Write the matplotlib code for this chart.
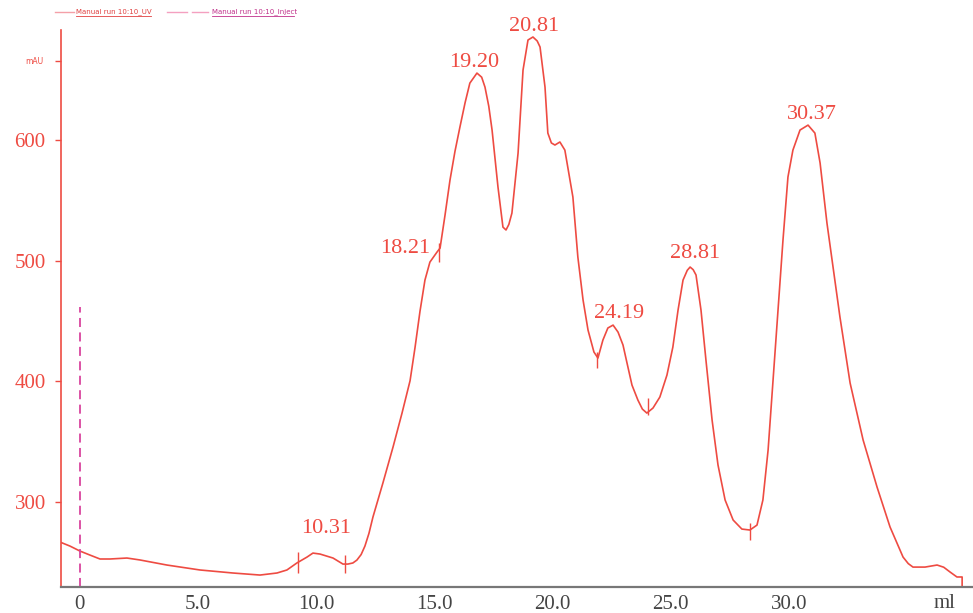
import numpy as np
import matplotlib.pyplot as plt
from matplotlib.lines import Line2D

# chromatogram (ml, mAU)
volume = [-0.85, -0.42, 0.00, 0.42, 0.85, 1.27, 1.99, 2.54, 3.68, 5.08,
          6.47, 7.62, 8.34, 8.76, 9.18, 9.61, 9.86, 10.16, 10.71, 11.13,
          11.34, 11.55, 11.72, 11.90, 12.06, 12.23, 12.40, 12.82, 13.25, 13.63,
          13.97, 14.18, 14.39, 14.60, 14.81, 15.11, 15.24, 15.45, 15.66, 15.87,
          16.08, 16.30, 16.50, 16.80, 17.00, 17.14, 17.30, 17.44, 17.69, 17.90,
          18.03, 18.15, 18.28, 18.54, 18.75, 18.96, 19.17, 19.35, 19.47, 19.68,
          19.80, 19.95, 20.10, 20.31, 20.52, 20.86, 21.07, 21.29, 21.50, 21.75,
          21.92, 22.13, 22.34, 22.56, 22.77, 22.98, 23.15, 23.36, 23.61, 23.80,
          23.99, 24.25, 24.54, 24.84, 25.09, 25.31, 25.52, 25.70, 25.82, 25.95,
          26.07, 26.28, 26.49, 26.75, 27.00, 27.30, 27.64, 28.01, 28.35, 28.65,
          28.90, 29.12, 29.33, 29.54, 29.75, 29.96, 30.17, 30.47, 30.81, 31.10,
          31.32, 31.61, 32.16, 32.59, 33.14, 33.73, 34.28, 34.83, 35.05,
          35.25, 35.76, 36.27, 36.55, 36.82, 37.11, 37.33, 37.33]
uv = [266.9, 263.5, 259.4, 256.1, 252.8, 252.8, 253.6, 252.0, 247.8, 243.7,
      241.2, 239.5, 241.2, 243.7, 249.5, 254.4, 257.7, 256.9, 253.6, 248.6,
      248.6, 249.5, 251.9, 256.5, 263.5, 274.0, 287.6, 315.7, 345.6, 373.7,
      400.5, 428.0, 458.0, 483.9, 498.8, 507.1, 510.4, 537.8, 566.8, 590.5,
      610.7, 631.0, 647.1, 655.4, 652.0, 643.8, 628.0, 608.2, 561.0, 527.8,
      525.4, 530.0, 539.4, 589.1, 657.9, 682.8, 685.3, 682.0, 677.0, 643.8,
      605.7, 597.5, 595.8, 598.3, 591.6, 552.7, 503.0, 467.4, 442.5, 424.3,
      419.3, 434.2, 444.2, 446.6, 440.8, 430.1, 415.2, 396.9, 384.5, 377.0,
      373.7, 377.9, 387.0, 405.2, 428.4, 459.1, 483.9, 492.0, 494.7, 492.5,
      488.1, 459.1, 417.6, 367.9, 330.7, 301.7, 285.1, 277.6, 276.8, 280.9,
      301.7, 343.1, 401.1, 459.1, 517.1, 569.3, 591.6, 608.2, 612.3, 605.7,
      580.9, 531.2, 453.3, 398.6, 351.4, 312.4, 279.3, 254.4, 249.0,
      246.1, 246.1, 247.8, 246.0, 242.0, 237.9, 237.9, 229.6]

# peak labels and where they sit
peak_labels = ["10.31", "19.20", "20.81", "24.19", "28.81", "30.37"]
peak_ml = [10.41, 16.67, 19.21, 22.81, 26.03, 30.98]
peak_mau = [270.2, 656.0, 686.0, 448.0, 498.0, 613.0]
shoulder_label = "18.21"
shoulder_ml = 14.81
shoulder_mau = 502.0

# fraction / integration marks along the trace
mark_ml = [9.23, 11.21, 15.19, 21.88, 24.04, 28.35]
mark_lo = [241.2, 241.0, 498.8, 411.0, 372.0, 268.5]
mark_hi = [258.7, 256.0, 514.6, 424.0, 386.0, 282.6]

inject_ml = 0.0
inject_top = 461.6
mau_pos = 665.4

yticks = [300, 400, 500, 600]
xticks = [0, 5, 10, 15, 20, 25, 30]
xtick_labels = ["0", "5.0", "10.0", "15.0", "20.0", "25.0", "30.0"]

red = '#ee4b42'
serif = ['Liberation Serif', 'DejaVu Serif']

fig = plt.figure(figsize=(9.73, 6.13), dpi=100)
ax = fig.add_axes([61/973, 1 - 587/613, 1 - 61/973, (587 - 30)/613])

ax.plot(volume, uv, color=red, lw=1.2)
ax.vlines(mark_ml, mark_lo, mark_hi, color=red, lw=1.0)
ax.plot([inject_ml, inject_ml], [229.6, inject_top], color='#d9449e', lw=1.3, ls=(0, (5, 3)))

for lab, x, y in zip(peak_labels, peak_ml, peak_mau):
    ax.text(x, y, lab, ha='center', va='bottom', color=red, fontsize=16, family=serif)
ax.text(shoulder_ml, shoulder_mau, shoulder_label, ha='right', va='bottom',
        color=red, fontsize=16, family=serif)

ax.set_xlim(-0.8, 37.79)
ax.set_ylim(229.6, 691.1)

ax.set_yticks(yticks + [mau_pos])
ax.set_yticklabels([str(v) for v in yticks] + [""])
ax.set_xticks(xticks)
ax.set_xticklabels(xtick_labels)

for t in ax.get_yticklabels():
    t.set_family(serif)
    t.set_fontsize(15)
for t in ax.get_xticklabels():
    t.set_family(serif)
    t.set_fontsize(15)

ax.tick_params(axis='y', colors=red, length=4, width=1, pad=7)
ax.tick_params(axis='x', length=0, pad=6, labelcolor='#444444')

ax.spines['top'].set_visible(False)
ax.spines['right'].set_visible(False)
ax.spines['left'].set_color(red)
ax.spines['left'].set_linewidth(1.2)
ax.spines['bottom'].set_color('#777777')
ax.spines['bottom'].set_linewidth(1.6)

ax.text(-0.8 - 0.75, mau_pos, "mAU", ha='right', va='center', color=red, fontsize=5.5)
fig.text(945/973, 1 - 603/613, "ml", ha='center', va='center', color='#444444',
         fontsize=15, family=serif)

# legend strip at the top
def fy(py):
    return 1 - py/613

fig.add_artist(Line2D([55/973, 74/973], [fy(12), fy(12)], color='#f4a0a8', lw=1))
fig.text(76/973, fy(12), "Manual run 10:10_UV", ha='left', va='center',
         color='#e04040', fontsize=5)
fig.add_artist(Line2D([76/973, 151/973], [fy(16), fy(16)], color='#e04040', lw=0.6))
fig.add_artist(Line2D([167/973, 187/973], [fy(12), fy(12)], color='#f4a0c0', lw=1))
fig.add_artist(Line2D([192/973, 208/973], [fy(12), fy(12)], color='#f4a0c0', lw=1))
fig.text(212/973, fy(12), "Manual run 10:10_Inject", ha='left', va='center',
         color='#c0308a', fontsize=5)
fig.add_artist(Line2D([212/973, 294/973], [fy(16), fy(16)], color='#c0308a', lw=0.6))

fig.savefig('out.png', dpi=100)
